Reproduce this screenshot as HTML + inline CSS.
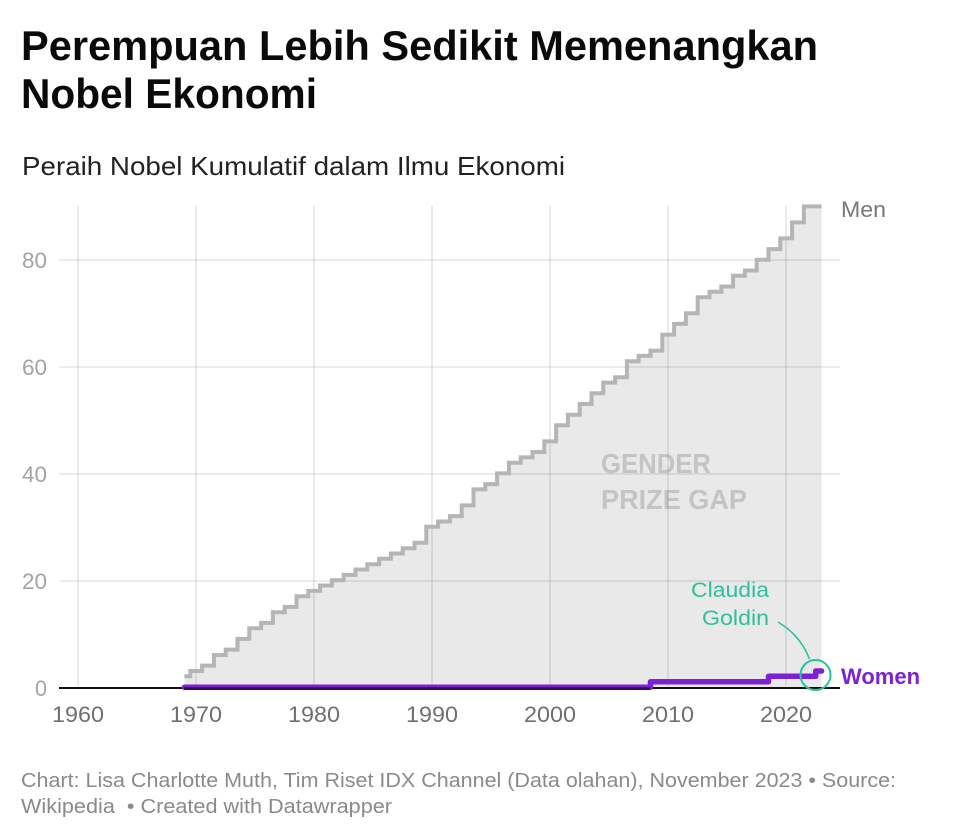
<!DOCTYPE html>
<html>
<head>
<meta charset="utf-8">
<style>
html,body{margin:0;padding:0;background:#fff;}
svg{display:block;}
text{font-family:"Liberation Sans",Arial,sans-serif;}
</style>
</head>
<body>
<svg width="962" height="840" viewBox="0 0 962 840" xmlns="http://www.w3.org/2000/svg">
<rect width="962" height="840" fill="#fff"/>
<!-- Title -->
<text x="21" y="60" font-size="41.5" font-weight="bold" fill="#0a0a0a" textLength="797" lengthAdjust="spacingAndGlyphs">Perempuan Lebih Sedikit Memenangkan</text>
<text x="21" y="108" font-size="41.5" font-weight="bold" fill="#0a0a0a" textLength="296" lengthAdjust="spacingAndGlyphs">Nobel Ekonomi</text>
<text x="22" y="175" font-size="26" fill="#222" textLength="543" lengthAdjust="spacingAndGlyphs">Peraih Nobel Kumulatif dalam Ilmu Ekonomi</text>

<!-- Men fill -->
<path d="M184.4,676.3 H190.3 V671.0 H202.1 V665.6 H213.9 V655.0 H225.7 V649.6 H237.5 V638.9 H249.3 V628.3 H261.1 V622.9 H272.9 V612.2 H284.7 V606.9 H296.5 V596.2 H308.3 V590.9 H320.1 V585.5 H331.9 V580.2 H343.7 V574.9 H355.5 V569.5 H367.3 V564.2 H379.1 V558.8 H390.9 V553.5 H402.7 V548.2 H414.5 V542.8 H426.3 V526.8 H438.1 V521.5 H449.9 V516.1 H461.7 V505.4 H473.5 V489.4 H485.3 V484.1 H497.1 V473.4 H508.9 V462.7 H520.7 V457.4 H532.5 V452.0 H544.3 V441.4 H556.1 V425.3 H567.9 V414.7 H579.7 V404.0 H591.5 V393.3 H603.3 V382.6 H615.1 V377.3 H626.9 V361.3 H638.7 V355.9 H650.5 V350.6 H662.3 V334.6 H674.1 V323.9 H685.9 V313.2 H697.7 V297.2 H709.5 V291.8 H721.3 V286.5 H733.1 V275.8 H744.9 V270.5 H756.7 V259.8 H768.5 V249.1 H780.3 V238.4 H792.1 V222.4 H803.9 V206.4 H821.6 V687 H184.4 Z" fill="#e9e9e9"/>

<!-- Gap label -->
<text x="601" y="473" font-size="28" font-weight="bold" fill="#c4c4c4" textLength="110" lengthAdjust="spacingAndGlyphs">GENDER</text>
<text x="601" y="509" font-size="28" font-weight="bold" fill="#c4c4c4" textLength="146" lengthAdjust="spacingAndGlyphs">PRIZE GAP</text>

<!-- Gridlines -->
<g stroke="#000" stroke-opacity="0.1" stroke-width="1.6">
<line x1="59" y1="260" x2="840" y2="260"/>
<line x1="59" y1="367" x2="840" y2="367"/>
<line x1="59" y1="474" x2="840" y2="474"/>
<line x1="59" y1="581" x2="840" y2="581"/>
<line x1="78" y1="206" x2="78" y2="686"/>
<line x1="196" y1="206" x2="196" y2="686"/>
<line x1="314" y1="206" x2="314" y2="686"/>
<line x1="432" y1="206" x2="432" y2="686"/>
<line x1="550" y1="206" x2="550" y2="686"/>
<line x1="668" y1="206" x2="668" y2="686"/>
<line x1="786" y1="206" x2="786" y2="686"/>
</g>

<!-- Men line -->
<path d="M184.4,676.3 H190.3 V671.0 H202.1 V665.6 H213.9 V655.0 H225.7 V649.6 H237.5 V638.9 H249.3 V628.3 H261.1 V622.9 H272.9 V612.2 H284.7 V606.9 H296.5 V596.2 H308.3 V590.9 H320.1 V585.5 H331.9 V580.2 H343.7 V574.9 H355.5 V569.5 H367.3 V564.2 H379.1 V558.8 H390.9 V553.5 H402.7 V548.2 H414.5 V542.8 H426.3 V526.8 H438.1 V521.5 H449.9 V516.1 H461.7 V505.4 H473.5 V489.4 H485.3 V484.1 H497.1 V473.4 H508.9 V462.7 H520.7 V457.4 H532.5 V452.0 H544.3 V441.4 H556.1 V425.3 H567.9 V414.7 H579.7 V404.0 H591.5 V393.3 H603.3 V382.6 H615.1 V377.3 H626.9 V361.3 H638.7 V355.9 H650.5 V350.6 H662.3 V334.6 H674.1 V323.9 H685.9 V313.2 H697.7 V297.2 H709.5 V291.8 H721.3 V286.5 H733.1 V275.8 H744.9 V270.5 H756.7 V259.8 H768.5 V249.1 H780.3 V238.4 H792.1 V222.4 H803.9 V206.4 H821.6" fill="none" stroke="#b5b5b5" stroke-width="4"/>

<!-- Baseline -->
<line x1="59" y1="688" x2="840" y2="688" stroke="#111" stroke-width="2"/>

<!-- Women line -->
<path d="M184.4,687.3 H650.5 V681.7 H768.5 V676.3 H815.7 V671.0 H821.6" fill="none" stroke="#7b22d4" stroke-width="5.5" stroke-linejoin="round" stroke-linecap="round"/>
<line x1="184" y1="688.6" x2="650" y2="688.6" stroke="#000" stroke-opacity="0.6" stroke-width="2.8"/>

<!-- Annotation -->
<path d="M778,622 Q801,636 809.5,659" fill="none" stroke="#2bc29b" stroke-width="1.6"/>
<circle cx="815.5" cy="675" r="15" fill="none" stroke="#2bc29b" stroke-width="2"/>
<text x="769" y="597" font-size="21.5" fill="#2bc29b" text-anchor="end" textLength="78" lengthAdjust="spacingAndGlyphs">Claudia</text>
<text x="769" y="625" font-size="21.5" fill="#2bc29b" text-anchor="end" textLength="67" lengthAdjust="spacingAndGlyphs">Goldin</text>

<!-- Series labels -->
<text x="841" y="217" font-size="22" fill="#777" textLength="45" lengthAdjust="spacingAndGlyphs">Men</text>
<text x="841" y="684" font-size="22" font-weight="bold" fill="#7b22d4" textLength="79" lengthAdjust="spacingAndGlyphs">Women</text>

<!-- Y tick labels -->
<g font-size="22" fill="#a3a3a3" text-anchor="end">
<text x="47" y="268" textLength="25" lengthAdjust="spacingAndGlyphs">80</text>
<text x="47" y="375" textLength="25" lengthAdjust="spacingAndGlyphs">60</text>
<text x="47" y="482" textLength="25" lengthAdjust="spacingAndGlyphs">40</text>
<text x="47" y="589" textLength="25" lengthAdjust="spacingAndGlyphs">20</text>
<text x="47" y="696" textLength="12" lengthAdjust="spacingAndGlyphs">0</text>
</g>

<!-- X tick labels -->
<g font-size="22" fill="#6f6f6f" text-anchor="middle">
<text x="78" y="722" textLength="52" lengthAdjust="spacingAndGlyphs">1960</text>
<text x="196" y="722" textLength="52" lengthAdjust="spacingAndGlyphs">1970</text>
<text x="314" y="722" textLength="52" lengthAdjust="spacingAndGlyphs">1980</text>
<text x="432" y="722" textLength="52" lengthAdjust="spacingAndGlyphs">1990</text>
<text x="550" y="722" textLength="52" lengthAdjust="spacingAndGlyphs">2000</text>
<text x="668" y="722" textLength="52" lengthAdjust="spacingAndGlyphs">2010</text>
<text x="786" y="722" textLength="52" lengthAdjust="spacingAndGlyphs">2020</text>
</g>

<!-- Footer -->
<text x="21" y="787" font-size="20" fill="#8a8a8a" textLength="875" lengthAdjust="spacingAndGlyphs">Chart: Lisa Charlotte Muth, Tim Riset IDX Channel (Data olahan), November 2023 • Source:</text>
<text x="21" y="813" font-size="20" fill="#8a8a8a" textLength="371" lengthAdjust="spacingAndGlyphs">Wikipedia&#160; • Created with Datawrapper</text>
</svg>
</body>
</html>
